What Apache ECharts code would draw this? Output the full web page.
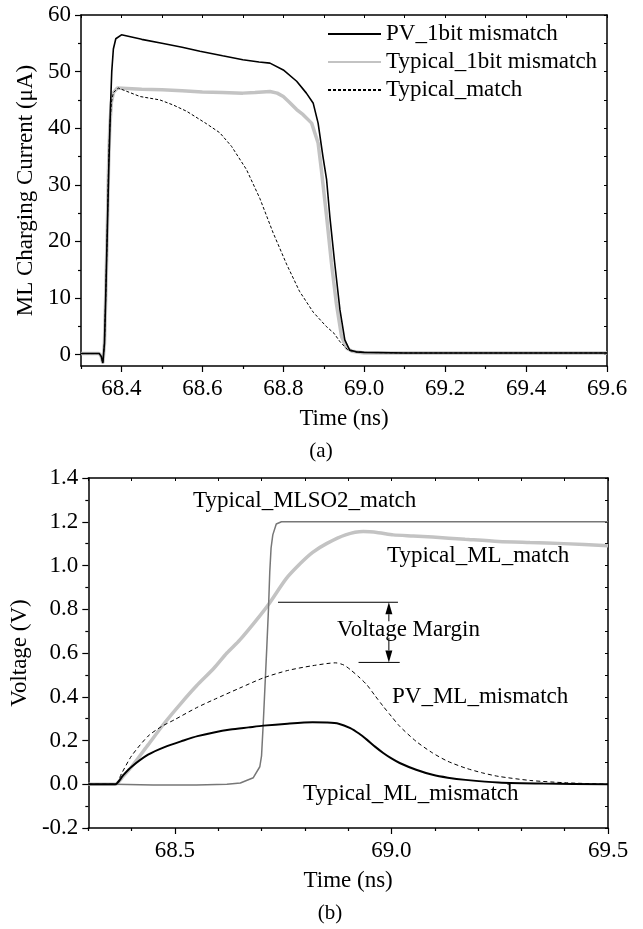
<!DOCTYPE html>
<html>
<head>
<meta charset="utf-8">
<script src="https://cdn.jsdelivr.net/npm/echarts@6/dist/echarts.min.js"></script>
<style>html,body{margin:0;padding:0;background:#fff}#c{width:643px;height:929px}</style>
</head>
<body>
<div id="c"></div>
<script>
// ---------- Chart (a): ML charging current ----------
const aXMin = 68.3, aXMax = 69.6, aYMin = -2, aYMax = 60;
const aXLabels = [68.4, 68.6, 68.8, 69.0, 69.2, 69.4, 69.6];
const aXMinor = [68.3, 68.5, 68.7, 68.9, 69.1, 69.3, 69.5];
const aYLabels = [0, 10, 20, 30, 40, 50, 60];
const aYMinor = [5, 15, 25, 35, 45, 55];

const aPvT = [68.30, 68.33, 68.345, 68.350, 68.354, 68.358, 68.361, 68.365, 68.369, 68.373, 68.376, 68.380, 68.386, 68.400, 68.45, 68.50, 68.55, 68.594, 68.65, 68.70, 68.74, 68.767, 68.80, 68.833, 68.857, 68.874, 68.886, 68.898, 68.907, 68.915, 68.927, 68.940, 68.952, 68.964, 68.98, 69.0, 69.1, 69.2, 69.3, 69.4, 69.5, 69.6];
const aPvV = [0.2, 0.2, 0.2, -0.3, -1.5, 2, 10, 22, 34, 44, 50, 54, 55.8, 56.5, 55.7, 55.0, 54.3, 53.6, 52.8, 52.1, 51.7, 51.5, 50.3, 48.3, 46.2, 44.4, 40.9, 35.0, 30.9, 24.4, 16.2, 7.9, 2.6, 0.8, 0.5, 0.4, 0.3, 0.3, 0.3, 0.3, 0.3, 0.3];

const aTypT = [68.30, 68.33, 68.345, 68.350, 68.354, 68.358, 68.361, 68.365, 68.368, 68.371, 68.375, 68.380, 68.390, 68.45, 68.50, 68.55, 68.60, 68.65, 68.70, 68.73, 68.767, 68.785, 68.80, 68.815, 68.833, 68.849, 68.870, 68.886, 68.894, 68.907, 68.919, 68.931, 68.944, 68.956, 68.97, 69.0, 69.1, 69.2, 69.3, 69.4, 69.5, 69.6];
const aTypV = [0.2, 0.2, 0.2, -0.3, -1.5, 2, 10, 22, 33, 40, 44.5, 46.3, 47.1, 46.9, 46.8, 46.6, 46.4, 46.3, 46.2, 46.3, 46.5, 46.2, 45.6, 44.6, 43.3, 42.4, 40.9, 37.4, 32.7, 24.4, 16.2, 9.1, 3.2, 1.2, 0.6, 0.3, 0.3, 0.3, 0.3, 0.3, 0.3, 0.3];

const aMatT = [68.30, 68.33, 68.345, 68.350, 68.354, 68.358, 68.361, 68.365, 68.368, 68.371, 68.375, 68.380, 68.392, 68.446, 68.495, 68.528, 68.561, 68.610, 68.643, 68.672, 68.709, 68.742, 68.775, 68.808, 68.840, 68.874, 68.906, 68.925, 68.940, 68.960, 68.98, 69.0, 69.1, 69.2, 69.3, 69.4, 69.5, 69.6];
const aMatV = [0.2, 0.2, 0.2, -0.3, -1.5, 2, 10, 22, 33, 40, 44.5, 46.3, 47.1, 45.6, 45.0, 44.1, 43.0, 40.8, 39.2, 36.8, 32.7, 27.6, 21.5, 16.0, 11.2, 7.5, 5.0, 3.8, 2.3, 0.8, 0.5, 0.4, 0.3, 0.3, 0.3, 0.3, 0.3, 0.3];

// ---------- Chart (b): voltages ----------
const bXMin = 68.3, bXMax = 69.5, bYMin = -0.2, bYMax = 1.4;
const bXLabels = [68.5, 69.0, 69.5];
const bXMinor = [68.3, 68.4, 68.6, 68.7, 68.8, 68.9, 69.1, 69.2, 69.3, 69.4];
const bYLabels = [-0.2, 0.0, 0.2, 0.4, 0.6, 0.8, 1.0, 1.2, 1.4];
const bYMinor = [-0.1, 0.1, 0.3, 0.5, 0.7, 0.9, 1.1, 1.3];

const bSoT = [68.30, 68.36, 68.45, 68.55, 68.62, 68.651, 68.681, 68.696, 68.700, 68.704, 68.708, 68.712, 68.716, 68.719, 68.722, 68.726, 68.734, 68.746, 69.0, 69.5];
const bSoV = [0, 0, -0.003, -0.003, 0, 0.006, 0.03, 0.08, 0.13, 0.28, 0.45, 0.62, 0.80, 0.97, 1.08, 1.14, 1.19, 1.2, 1.2, 1.2];

const bMatchT = [68.30, 68.362, 68.38, 68.40, 68.438, 68.476, 68.514, 68.55, 68.59, 68.62, 68.65, 68.696, 68.719, 68.757, 68.79, 68.818, 68.85, 68.894, 68.935, 68.97, 69.004, 69.05, 69.095, 69.17, 69.247, 69.32, 69.398, 69.5];
const bMatchV = [0, 0, 0.035, 0.08, 0.18, 0.28, 0.37, 0.45, 0.53, 0.60, 0.66, 0.77, 0.83, 0.94, 1.01, 1.06, 1.10, 1.14, 1.155, 1.15, 1.14, 1.135, 1.13, 1.12, 1.11, 1.105, 1.10, 1.09];

const bPvT = [68.30, 68.362, 68.377, 68.40, 68.438, 68.47, 68.499, 68.55, 68.59, 68.65, 68.704, 68.76, 68.818, 68.871, 68.89, 68.905, 68.925, 68.943, 68.962, 68.981, 69.0, 69.019, 69.057, 69.095, 69.13, 69.171, 69.21, 69.247, 69.322, 69.4, 69.5];
const bPvV = [0, 0, 0.05, 0.13, 0.22, 0.265, 0.295, 0.35, 0.387, 0.44, 0.486, 0.52, 0.542, 0.555, 0.545, 0.524, 0.49, 0.455, 0.405, 0.356, 0.31, 0.265, 0.196, 0.143, 0.105, 0.074, 0.052, 0.036, 0.017, 0.007, 0];

const bMisT = [68.30, 68.362, 68.38, 68.40, 68.438, 68.476, 68.52, 68.552, 68.59, 68.628, 68.67, 68.704, 68.76, 68.818, 68.85, 68.878, 68.905, 68.925, 68.943, 68.962, 68.981, 69.0, 69.019, 69.057, 69.095, 69.13, 69.171, 69.247, 69.35, 69.5];
const bMisV = [0, 0, 0.04, 0.08, 0.135, 0.17, 0.2, 0.22, 0.237, 0.25, 0.26, 0.268, 0.277, 0.283, 0.282, 0.277, 0.257, 0.232, 0.204, 0.172, 0.143, 0.118, 0.097, 0.066, 0.043, 0.03, 0.02, 0.008, 0.003, 0];

// Voltage margin annotation (data coordinates)
const marginTopLine = [[68.738, 0.832], [69.015, 0.832]];
const marginBotLine = [[68.924, 0.557], [69.019, 0.557]];
const marginArrowX = 68.994;
const marginArrowUp = [0.745, 0.832];   // from, tip
const marginArrowDown = [0.670, 0.557]; // from, tip

const pair = (t, v) => t.map((x, i) => [x, v[i]]);

const FONT = "'Liberation Serif','Times New Roman',serif";
const FS = 23;
const txt = { fontFamily: FONT, fontSize: FS, color: '#000' };

function xAxes(grid, min, max, labels, minor, name, fmt) {
  return [
    { type: 'value', gridIndex: grid, min, max, position: 'bottom',
      name, nameLocation: 'middle', nameGap: 41, nameTextStyle: txt,
      axisLine: { show: true, onZero: false, lineStyle: { color: '#000', width: 1.5 } },
      axisTick: { show: true, inside: false, length: 6, customValues: labels, lineStyle: { color: '#000', width: 1.2 } },
      axisLabel: { show: true, margin: 11, customValues: labels, formatter: fmt, ...txt },
      splitLine: { show: false } },
    { type: 'value', gridIndex: grid, min, max, position: 'bottom',
      axisLine: { show: false, onZero: false },
      axisTick: { show: true, inside: false, length: 3, customValues: minor, lineStyle: { color: '#000', width: 1.2 } },
      axisLabel: { show: false }, splitLine: { show: false } },
    { type: 'value', gridIndex: grid, min, max, position: 'top',
      axisLine: { show: true, onZero: false, lineStyle: { color: '#000', width: 1.5 } },
      axisTick: { show: true, inside: true, length: 3, customValues: labels.concat(minor), lineStyle: { color: '#000', width: 1 } },
      axisLabel: { show: false }, splitLine: { show: false } }
  ];
}
function yAxes(grid, min, max, labels, minor, name, fmt) {
  return [
    { type: 'value', gridIndex: grid, min, max, position: 'left',
      name, nameLocation: 'middle', nameGap: 42, nameRotate: 90, nameTextStyle: txt,
      axisLine: { show: true, onZero: false, lineStyle: { color: '#000', width: 1.5 } },
      axisTick: { show: true, inside: false, length: 6, customValues: labels, lineStyle: { color: '#000', width: 1.2 } },
      axisLabel: { show: true, margin: 10, customValues: labels, formatter: fmt, ...txt },
      splitLine: { show: false } },
    { type: 'value', gridIndex: grid, min, max, position: 'left',
      axisLine: { show: false, onZero: false },
      axisTick: { show: true, inside: false, length: 3, customValues: minor, lineStyle: { color: '#000', width: 1.2 } },
      axisLabel: { show: false }, splitLine: { show: false } },
    { type: 'value', gridIndex: grid, min, max, position: 'right',
      axisLine: { show: true, onZero: false, lineStyle: { color: '#000', width: 1.5 } },
      axisTick: { show: true, inside: true, length: 3, customValues: labels.concat(minor), lineStyle: { color: '#000', width: 1 } },
      axisLabel: { show: false }, splitLine: { show: false } }
  ];
}

const fmtA = v => (Math.abs(v - Math.round(v)) < 1e-9 ? String(Math.round(v)) : v.toFixed(1));
const fmt1 = v => v.toFixed(1);

const line = (name, xi, yi, data, color, width, type, smooth) => ({
  name, type: 'line', xAxisIndex: xi, yAxisIndex: yi, data,
  showSymbol: false, symbol: 'none', smooth: smooth || false, animation: false,
  lineStyle: { color, width, type: type || 'solid' }, itemStyle: { color }
});

const chart = echarts.init(document.getElementById('c'), null, { renderer: 'canvas' });
const option = {
  backgroundColor: '#fff',
  animation: false,
  grid: [
    { left: 81, top: 15, width: 526, height: 351 },
    { left: 81, top: 478, width: 527, height: 350 }
  ],
  xAxis: [
    ...xAxes(0, aXMin, aXMax, aXLabels, aXMinor, 'Time (ns)', fmt1),
    ...xAxes(1, bXMin, bXMax, bXLabels, bXMinor, 'Time (ns)', fmt1)
  ],
  yAxis: [
    ...yAxes(0, aYMin, aYMax, aYLabels, aYMinor, 'ML Charging Current (μA)', fmtA),
    ...yAxes(1, bYMin, bYMax, bYLabels, bYMinor, 'Voltage (V)', fmt1)
  ],
  legend: {
    data: ['PV_1bit mismatch', 'Typical_1bit mismatch', 'Typical_match'],
    orient: 'vertical', left: 327, top: 22, padding: 0,
    itemWidth: 53, itemHeight: 14, itemGap: 4,
    itemStyle: { opacity: 0 },
    textStyle: { ...txt, lineHeight: 24 },
    selectedMode: false
  },
  series: [
    line('Typical_1bit mismatch', 0, 0, pair(aTypT, aTypV), '#c3c3c3', 3.5),
    line('PV_1bit mismatch', 0, 0, pair(aPvT, aPvV), '#000', 1.6),
    line('Typical_match', 0, 0, pair(aMatT, aMatV), '#000', 1, [3, 2]),
    line('Typical_ML_match', 3, 3, pair(bMatchT, bMatchV), '#c3c3c3', 3.5, 'solid', 0.25),
    line('Typical_MLSO2_match', 3, 3, pair(bSoT, bSoV), '#777', 1.5),
    line('PV_ML_mismatch', 3, 3, pair(bPvT, bPvV), '#000', 1, [4, 3], 0.25),
    line('Typical_ML_mismatch', 3, 3, pair(bMisT, bMisV), '#000', 2, 'solid', 0.25)
  ]
};
chart.setOption(option);

// Annotations for chart (b)
const P = p => chart.convertToPixel({ xAxisIndex: 3, yAxisIndex: 3 }, p);
const gl = (a, b) => ({ type: 'line', shape: { x1: a[0], y1: a[1], x2: b[0], y2: b[1] }, style: { stroke: '#000', lineWidth: 1 }, silent: true });
const t1 = P(marginTopLine[0]), t2 = P(marginTopLine[1]);
const b1 = P(marginBotLine[0]), b2 = P(marginBotLine[1]);
const upFrom = P([marginArrowX, marginArrowUp[0]]), upTip = P([marginArrowX, marginArrowUp[1]]);
const dnFrom = P([marginArrowX, marginArrowDown[0]]), dnTip = P([marginArrowX, marginArrowDown[1]]);
const AH = 12, AW = 3.5;
const label = (s, x, y) => ({ type: 'text', x, y, style: { text: s, font: FS + 'px ' + FONT, fill: '#000', textAlign: 'left', textVerticalAlign: 'middle' }, silent: true });
chart.setOption({
  graphic: [
    gl(t1, t2), gl(b1, b2),
    gl(upFrom, [upTip[0], upTip[1] + AH]),
    { type: 'polygon', shape: { points: [[upTip[0], upTip[1]], [upTip[0] - AW, upTip[1] + AH], [upTip[0] + AW, upTip[1] + AH]] }, style: { fill: '#000' }, silent: true },
    gl(dnFrom, [dnTip[0], dnTip[1] - AH]),
    { type: 'polygon', shape: { points: [[dnTip[0], dnTip[1]], [dnTip[0] - AW, dnTip[1] - AH], [dnTip[0] + AW, dnTip[1] - AH]] }, style: { fill: '#000' }, silent: true },
    label('Typical_MLSO2_match', 193, 501),
    label('Typical_ML_match', 387, 556),
    label('Voltage Margin', 337, 630),
    label('PV_ML_mismatch', 392, 697),
    label('Typical_ML_mismatch', 303, 794),
    { type: 'text', x: 321, y: 451, style: { text: '(a)', font: '21px ' + FONT, fill: '#000', textAlign: 'center', textVerticalAlign: 'middle' }, silent: true },
    { type: 'text', x: 330, y: 913, style: { text: '(b)', font: '21px ' + FONT, fill: '#000', textAlign: 'center', textVerticalAlign: 'middle' }, silent: true }
  ]
});
</script>
</body>
</html>
